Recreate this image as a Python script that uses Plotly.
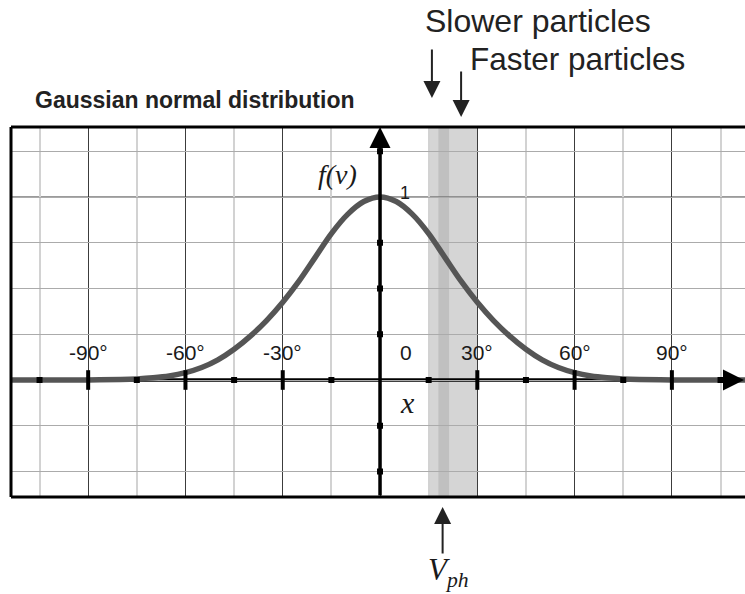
import plotly.graph_objects as go

# Velocity distribution f(v), sampled along the angle axis (degrees)
angle_deg = [-114, -100, -90, -80, -75, -70, -65, -60, -55, -50, -45, -40, -35, -30, -25, -20, -15, -10, -5, 0,
             5, 10, 15, 20, 25, 30, 35, 40, 45, 50, 55, 60, 65, 70, 75, 80, 90, 100, 113]
f_values = [0.0, 0.0, 0.0005, 0.003, 0.006, 0.012, 0.022, 0.04, 0.068, 0.11, 0.168, 0.24, 0.325, 0.425, 0.54, 0.67,
            0.80, 0.905, 0.975, 1.0,
            0.975, 0.905, 0.80, 0.67, 0.54, 0.425, 0.325, 0.24, 0.168, 0.11, 0.068, 0.04, 0.022, 0.012, 0.006, 0.003,
            0.0005, 0.0, 0.0]

# Axis tick labels
tick_pos = [-90, -60, -30, 0, 30, 60, 90]
tick_text = ["-90°", "-60°", "-30°", "0", "30°", "60°", "90°"]
minor_tick_pos = [-105, -75, -45, -15, 15, 45, 75, 105]
major_tick_pos = [-90, -60, -30, 30, 60, 90]
y_tick_pos = [-0.5, -0.25, 0.25, 0.5, 0.75, 1.25]

# Resonance band and phase velocity
band = [15, 30]
vph_strip = [18, 21.3]
v_ph = 19.3
slower_x = 16
faster_x = 25

W, H = 745, 594
L, T, B = 11, 127, 97
PW, PH = W - L, H - T - B
X_RANGE = [-113.8, 112.55]
Y_RANGE = [-0.6393, 1.3825]


def px(x):
    return (x - L) / PW


def py(y):
    return (H - B - y) / PH


fig = go.Figure()

# band behind the grid
fig.add_shape(type="rect", xref="x", yref="paper", x0=band[0], x1=band[1], y0=0, y1=1,
              fillcolor="#d5d5d5", line_width=0, layer="below")
fig.add_shape(type="rect", xref="x", yref="paper", x0=vph_strip[0], x1=vph_strip[1], y0=0, y1=1,
              fillcolor="#c0c0c0", line_width=0, layer="below")

# highlighted y = 1 grid line
fig.add_shape(type="line", xref="paper", yref="y", x0=0, x1=1, y0=1, y1=1,
              line=dict(color="#7a7a7a", width=1.5), layer="between")

# horizontal axis line
fig.add_shape(type="line", xref="paper", yref="y", x0=0, x1=1, y0=0, y1=0,
              line=dict(color="black", width=3.5), layer="between")

# distribution curve
fig.add_trace(go.Scatter(x=angle_deg, y=f_values, mode="lines",
                         line=dict(color="#555555", width=5.5, shape="spline", smoothing=1.0),
                         hoverinfo="skip", showlegend=False))

# tick marks on the axes
fig.add_trace(go.Scatter(x=minor_tick_pos, y=[0] * len(minor_tick_pos), mode="markers",
                         marker=dict(symbol="square", size=6, color="black"),
                         hoverinfo="skip", showlegend=False))
fig.add_trace(go.Scatter(x=major_tick_pos, y=[0] * len(major_tick_pos), mode="markers",
                         marker=dict(symbol="line-ns", size=14, line=dict(color="black", width=4)),
                         hoverinfo="skip", showlegend=False))
fig.add_trace(go.Scatter(x=[0] * len(y_tick_pos), y=y_tick_pos, mode="markers",
                         marker=dict(symbol="square", size=6, color="black"),
                         hoverinfo="skip", showlegend=False))

# frame
for s in [dict(x0=0, x1=1, y0=1, y1=1), dict(x0=0, x1=1, y0=0, y1=0), dict(x0=0, x1=0, y0=0, y1=1)]:
    fig.add_shape(type="line", xref="paper", yref="paper", line=dict(color="black", width=3),
                  layer="above", **s)

annotations = []

# vertical axis with arrow
annotations.append(dict(x=0, y=1, xref="x", yref="paper", ax=0, ay=PH, axref="pixel", ayref="pixel",
                        showarrow=True, arrowhead=2, arrowsize=1.2, arrowwidth=3.5, arrowcolor="black", text=""))
# horizontal axis arrow head
annotations.append(dict(x=1, y=0, xref="paper", yref="y", ax=-16, ay=0,
                        showarrow=True, arrowhead=2, arrowsize=1.2, arrowwidth=3.5, arrowcolor="black", text=""))

SANS = "Liberation Sans, Arial"
SERIF = "Liberation Serif, Times New Roman"

# tick labels
for pos, lab in zip(tick_pos, tick_text):
    annotations.append(dict(x=pos, y=py(352), xref="x", yref="paper", text=lab, showarrow=False,
                            xanchor="center", yanchor="middle", xshift=26 if pos == 0 else 0,
                            font=dict(family=SANS, size=21, color="#1a1a1a")))
annotations.append(dict(x=0, y=1, xref="x", yref="y", text="1", showarrow=False, xshift=25, yshift=4,
                        xanchor="center", yanchor="middle",
                        font=dict(family=SANS, size=18, color="#1a1a1a")))

# axis names
annotations.append(dict(x=px(337), y=py(174), xref="paper", yref="paper", text="<i>f(v)</i>", showarrow=False,
                        xanchor="center", yanchor="middle",
                        font=dict(family=SERIF, size=28, color="#1a1a1a")))
annotations.append(dict(x=px(407), y=py(402), xref="paper", yref="paper", text="<i>x</i>", showarrow=False,
                        xanchor="center", yanchor="middle",
                        font=dict(family=SERIF, size=30, color="#1a1a1a")))

# title
annotations.append(dict(x=px(33), y=py(100), xref="paper", yref="paper", text="<b>Gaussian normal distribution</b>",
                        xanchor="left", yanchor="middle", showarrow=False,
                        font=dict(family=SANS, size=23, color="#222222")))

# particle labels and arrows
annotations.append(dict(x=px(423), y=py(21), xref="paper", yref="paper", text="Slower particles",
                        xanchor="left", yanchor="middle", showarrow=False,
                        font=dict(family=SANS, size=32, color="#222222")))
annotations.append(dict(x=px(468), y=py(59), xref="paper", yref="paper", text="Faster particles",
                        xanchor="left", yanchor="middle", showarrow=False,
                        font=dict(family=SANS, size=31.5, color="#222222")))
annotations.append(dict(x=slower_x, y=py(98), xref="x", yref="paper", ax=0, ay=-50, text="",
                        showarrow=True, arrowhead=2, arrowsize=1.7, arrowwidth=2, arrowcolor="#222222"))
annotations.append(dict(x=faster_x, y=py(117), xref="x", yref="paper", ax=0, ay=-47, text="",
                        showarrow=True, arrowhead=2, arrowsize=1.7, arrowwidth=2, arrowcolor="#222222"))

# phase velocity marker
annotations.append(dict(x=v_ph, y=py(507), xref="x", yref="paper", ax=0, ay=48, text="",
                        showarrow=True, arrowhead=2, arrowsize=1.7, arrowwidth=2, arrowcolor="#222222"))
annotations.append(dict(x=v_ph, y=py(572), xref="x", yref="paper", text="<i>V<sub>ph</sub></i>",
                        showarrow=False, xshift=6, xanchor="center", yanchor="middle",
                        font=dict(family=SERIF, size=31, color="#1a1a1a")))

fig.update_layout(
    width=W, height=H,
    margin=dict(l=L, r=0, t=T, b=B, pad=0),
    paper_bgcolor="white", plot_bgcolor="white",
    showlegend=False,
    annotations=annotations,
    xaxis=dict(range=X_RANGE, dtick=30, tick0=0, showgrid=True, gridcolor="#3c3c3c", gridwidth=1,
               minor=dict(dtick=15, tick0=0, showgrid=True, gridcolor="#d2d2d2", gridwidth=1.5),
               zeroline=False, showticklabels=False, ticks="", showline=False, fixedrange=True),
    yaxis=dict(range=Y_RANGE, dtick=0.25, tick0=0, showgrid=True, gridcolor="#ababab", gridwidth=1,
               zeroline=False, showticklabels=False, ticks="", showline=False, fixedrange=True),
)

fig.write_html("out.html")
